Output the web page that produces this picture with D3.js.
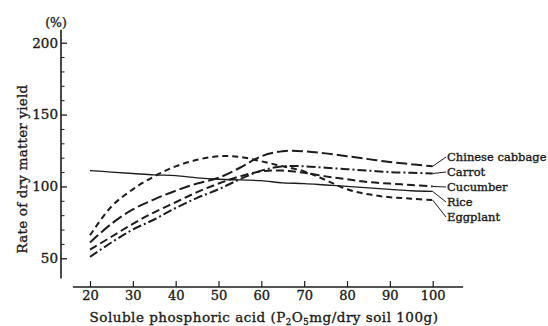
<!DOCTYPE html>
<html>
<head>
<meta charset="utf-8">
<script src="https://cdn.jsdelivr.net/npm/d3@7"></script>
<style>
  body { margin: 0; background: #fff; }
  svg { display: block; }
  text { font-family: "DejaVu Serif", "Liberation Serif", serif; fill: #1a1a1a; stroke: #1a1a1a; stroke-width: 0.35px; }
</style>
</head>
<body>
<div id="chart"></div>
<script>
// phosphoric acid (mg / 100g dry soil)
const X = [20, 25, 30, 35, 40, 45, 50, 55, 60, 65, 70, 75, 80, 85, 90, 95, 100]

const chineseCabbage = [61, 74, 84, 91, 97, 102, 106, 113, 121, 124.5, 124.5, 123, 121, 119, 117, 115.5, 114]
const carrot = [51, 61, 70, 77, 85, 92, 98, 105, 111, 114, 114, 113, 112, 111, 110, 109.5, 109]
const cucumber = [56, 65, 74, 82, 89, 96, 102, 107, 110.5, 111, 109.5, 107, 105, 103, 102, 101, 100]
const rice = [111, 110, 109, 108, 107.5, 106, 105, 104.5, 104, 102.5, 102, 101, 100, 99, 98, 97, 96.5]
const eggplant = [66, 86, 98, 107, 114, 118.5, 121, 120.5, 117.5, 114, 110.5, 104.5, 98, 94.5, 92.5, 91.5, 90.5]

const seriesNames = ["Chinese cabbage", "Carrot", "Cucumber", "Rice", "Eggplant"]
const xTicks = [20, 30, 40, 50, 60, 70, 80, 90, 100]
const yTicks = [50, 100, 150, 200]

const W = 548, H = 326

const svg = d3.select("#chart").append("svg")
  .attr("width", W)
  .attr("height", H)

const x = d3.scaleLinear().domain([20, 100]).range([90, 432.7])
const y = d3.scaleLinear().domain([50, 200]).range([258.3, 42.7])

const ink = "#1c1c1c"

// Y axis
const yAxisX = 61
svg.append("line")
  .attr("x1", yAxisX).attr("x2", yAxisX)
  .attr("y1", y(209)).attr("y2", y(36))
  .attr("stroke", ink).attr("stroke-width", 1.6)

const yMinor = svg.append("g").attr("transform", `translate(${yAxisX},0)`)
  .call(d3.axisLeft(y).tickValues(d3.range(60, 200, 10).filter(v => v % 50 !== 0)).tickSize(-3.5).tickFormat(""))
yMinor.select(".domain").remove()
yMinor.selectAll("line").attr("stroke", ink).attr("stroke-width", 1)

const yMajor = svg.append("g").attr("transform", `translate(${yAxisX},0)`)
  .call(d3.axisLeft(y).tickValues(yTicks).tickSize(-6).tickPadding(3))
yMajor.select(".domain").remove()
yMajor.selectAll("line").attr("stroke", ink).attr("stroke-width", 1.3)
yMajor.selectAll("text")
  .style("font-family", "DejaVu Serif, serif")
  .style("font-size", "13.5px")
  .attr("fill", "#1a1a1a")

svg.append("text")
  .attr("x", 56).attr("y", 27)
  .attr("text-anchor", "middle")
  .style("font-size", "12.5px")
  .text("(%)")

svg.append("text")
  .attr("transform", "translate(27,169) rotate(-90)")
  .attr("text-anchor", "middle")
  .style("font-size", "13.5px")
  .style("letter-spacing", "0.2px")
  .text("Rate of dry matter yield")

// X axis
const xAxisY = 287
svg.append("line")
  .attr("x1", x(16)).attr("x2", x(107.1))
  .attr("y1", xAxisY).attr("y2", xAxisY)
  .attr("stroke", ink).attr("stroke-width", 1.4)

const xAx = svg.append("g").attr("transform", `translate(0,${xAxisY})`)
  .call(d3.axisBottom(x).tickValues(xTicks).tickSize(-6).tickPadding(4))
xAx.select(".domain").remove()
xAx.selectAll("line").attr("stroke", ink).attr("stroke-width", 1.2)
xAx.selectAll("text")
  .style("font-family", "DejaVu Serif, serif")
  .style("font-size", "13px")
  .attr("fill", "#1a1a1a")

const xt = svg.append("text")
  .attr("x", 264).attr("y", 322)
  .attr("text-anchor", "middle")
  .style("font-size", "13.5px")
  .style("letter-spacing", "0.5px")
xt.append("tspan").text("Soluble phosphoric acid (P")
xt.append("tspan").attr("font-size", "8.5px").attr("dy", 3).text("2")
xt.append("tspan").attr("dy", -3).text("O")
xt.append("tspan").attr("font-size", "8.5px").attr("dy", 3).text("5")
xt.append("tspan").attr("dy", -3).text("mg/dry  soil 100g)")

// curves
const allValues = [chineseCabbage, carrot, cucumber, rice, eggplant]
const dashes = ["11,4", "9,3,2,3", "8,4", null, "6,4"]
const widths = [2, 2, 2, 1.3, 2]

const line = d3.line()
  .x((d, i) => x(X[i]))
  .y(d => y(d))
  .curve(d3.curveCatmullRom.alpha(0.5))

allValues.forEach((vals, k) => {
  svg.append("path")
    .datum(vals)
    .attr("d", line)
    .attr("fill", "none")
    .attr("stroke", ink)
    .attr("stroke-width", widths[k])
    .attr("stroke-dasharray", dashes[k])
})

// labels with short leaders
const labelY = [157, 172, 187, 202, 217]
seriesNames.forEach((name, k) => {
  const vals = allValues[k]
  const ex = x(100), ey = y(vals[vals.length - 1])
  svg.append("line")
    .attr("x1", ex).attr("y1", ey)
    .attr("x2", 446).attr("y2", labelY[k])
    .attr("stroke", ink).attr("stroke-width", 1)
  svg.append("text")
    .attr("x", 447).attr("y", labelY[k] + 4)
    .style("font-size", "11.5px")
    .text(name)
})
</script>
</body>
</html>
